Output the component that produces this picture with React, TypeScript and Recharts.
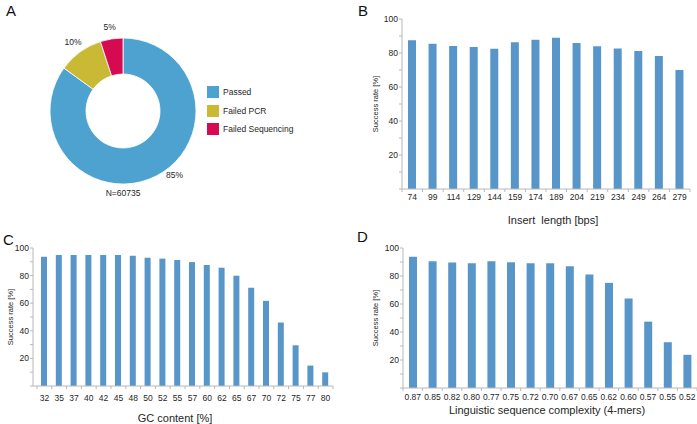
import React from 'react';
import {
  Bar,
  BarChart,
  Cell,
  Label,
  Legend,
  Pie,
  PieChart,
  XAxis,
  YAxis,
} from 'recharts';

const FONT = '"Liberation Sans", Arial, sans-serif';
const BAR_COLOR = '#5896c9';
const AXIS_COLOR = '#b8b8b8';
const TEXT_COLOR = '#262626';

// panel A
const outcomeNames = ['Passed', 'Failed PCR', 'Failed Sequencing'];
const outcomeShares = [85, 10, 5];
const outcomeColors = ['#4da2cf', '#c9b934', '#d50a50'];
const sampleCount = 'N=60735';

// panel B
const insertLengths = ['74', '99', '114', '129', '144', '159', '174', '189', '204', '219', '234', '249', '264', '279'];
const insertRates = [87.5, 85.5, 84.1, 83.5, 82.5, 86.3, 87.8, 89, 85.9, 83.9, 82.7, 81.2, 78.2, 70];

// panel C
const gcContents = ['32', '35', '37', '40', '42', '45', '48', '50', '52', '55', '57', '60', '62', '65', '67', '70', '72', '75', '77', '80'];
const gcRates = [93.7, 94.9, 94.9, 94.9, 94.9, 94.9, 94.4, 93, 92.3, 91.3, 89.8, 87.7, 85.7, 79.9, 71.2, 61.7, 46, 29.5, 14.8, 9.9];

// panel D
const complexities = ['0.87', '0.85', '0.82', '0.80', '0.77', '0.75', '0.72', '0.70', '0.67', '0.65', '0.62', '0.60', '0.57', '0.55', '0.52'];
const complexityRates = [93.8, 90.5, 89.6, 89.1, 90.5, 89.8, 89.1, 89.1, 87, 81, 75.1, 64, 47.4, 32.7, 23.7];

const yTicks = [0, 10, 20, 30, 40, 50, 60, 70, 80, 90, 100];

const pieData = outcomeNames.map((name, i) => ({ name, value: outcomeShares[i], color: outcomeColors[i] }));
const insertData = insertLengths.map((name, i) => ({ name, value: insertRates[i] }));
const gcData = gcContents.map((name, i) => ({ name, value: gcRates[i] }));
const complexityData = complexities.map((name, i) => ({ name, value: complexityRates[i] }));

const RADIAN = Math.PI / 180;

const renderPieLabel = (props: any) => {
  const { cx, cy, midAngle, outerRadius, percent } = props;
  // the big slice's label sits a bit further round, like the original
  const big = percent > 0.5;
  const angle = big ? midAngle + 12 : midAngle;
  const r = outerRadius + (big ? 9 : 12);
  const x = cx + r * Math.cos(-angle * RADIAN);
  const y = cy + r * Math.sin(-angle * RADIAN);
  return (
    <text x={x} y={y + 3} textAnchor='middle' fontSize={8.5} fill={TEXT_COLOR} fontFamily={FONT}>
      {`${(percent * 100).toFixed(0)}%`}
    </text>
  );
};

const PieLegend = () => (
  <div style={{ fontFamily: FONT, fontSize: 8.5, color: TEXT_COLOR }}>
    {pieData.map((d) => (
      <div key={d.name} style={{ display: 'flex', alignItems: 'center', height: 18.5 }}>
        <span style={{ width: 12, height: 12, background: d.color, marginRight: 4 }} />
        <span>{d.name}</span>
      </div>
    ))}
  </div>
);

const YTick = (props: any) => {
  const { x, y, payload } = props;
  if (payload.value === 0 || payload.value % 20 !== 0) return <g />;
  return (
    <text x={x} y={y + 3} textAnchor='end' fontSize={8.5} fill={TEXT_COLOR} fontFamily={FONT}>
      {payload.value}
    </text>
  );
};

const makeXTick = (band: number, count: number, labelDy: number) => (props: any) => {
  const { x, y, payload, index } = props;
  return (
    <g>
      <line x1={x - band / 2} x2={x - band / 2} y1={y} y2={y + 3} stroke={AXIS_COLOR} />
      {index === count - 1 && (
        <line x1={x + band / 2} x2={x + band / 2} y1={y} y2={y + 3} stroke={AXIS_COLOR} />
      )}
      <text x={x} y={y + labelDy} textAnchor='middle' fontSize={8.5} fill={TEXT_COLOR} fontFamily={FONT}>
        {payload.value}
      </text>
    </g>
  );
};

const yTitle = (dx: number) => (props: any) => {
  const { x, y, height } = props.viewBox;
  const cx = x + dx;
  const cy = y + height / 2;
  return (
    <text
      x={cx}
      y={cy}
      transform={`rotate(-90 ${cx} ${cy})`}
      textAnchor='middle'
      dominantBaseline='central'
      fontSize={7.5}
      fill={TEXT_COLOR}
      fontFamily={FONT}
    >
      Success rate [%]
    </text>
  );
};

const xTitle = (text: string, dx: number, dy: number) => (props: any) => {
  const { x, y, width } = props.viewBox;
  return (
    <text
      x={x + width / 2 + dx}
      y={y + dy}
      textAnchor='middle'
      fontSize={11}
      fill={TEXT_COLOR}
      fontFamily={FONT}
      style={{ whiteSpace: 'pre' }}
    >
      {text}
    </text>
  );
};

const panelLetter = (letter: string, left: number, top: number) => (
  <div
    style={{
      position: 'absolute',
      left,
      top,
      fontFamily: FONT,
      fontSize: 15,
      color: '#111',
      lineHeight: '15px',
    }}
  >
    {letter}
  </div>
);

type BarPanelProps = {
  data: { name: string; value: number }[];
  left: number;
  top: number;
  width: number;
  height: number;
  margin: { top: number; right: number; left: number; bottom: number };
  yWidth: number;
  xHeight: number;
  padLeft: number;
  barSize: number;
  labelDy: number;
  title: string;
  titleDx: number;
  titleDy: number;
  yTitleDx: number;
};

const BarPanel = (p: BarPanelProps) => {
  const plotWidth = p.width - p.margin.left - p.margin.right - p.yWidth - p.padLeft;
  const band = plotWidth / p.data.length;
  return (
    <div style={{ position: 'absolute', left: p.left, top: p.top }}>
      <BarChart width={p.width} height={p.height} data={p.data} margin={p.margin} barCategoryGap={0}>
        <XAxis
          dataKey='name'
          height={p.xHeight}
          interval={0}
          padding={{ left: p.padLeft, right: 0 }}
          stroke={AXIS_COLOR}
          tickLine={false}
          tickSize={0}
          tickMargin={0}
          tick={makeXTick(band, p.data.length, p.labelDy)}
        >
          <Label content={xTitle(p.title, p.titleDx, p.titleDy)} />
        </XAxis>
        <YAxis
          width={p.yWidth}
          domain={[0, 100]}
          ticks={yTicks}
          interval={0}
          stroke={AXIS_COLOR}
          tickSize={3}
          tickMargin={1}
          tick={<YTick />}
        >
          <Label content={yTitle(p.yTitleDx)} />
        </YAxis>
        <Bar dataKey='value' fill={BAR_COLOR} barSize={p.barSize} isAnimationActive={false} />
      </BarChart>
    </div>
  );
};

export default function App() {
  return (
    <div style={{ position: 'absolute', left: 0, top: 0, width: 697, height: 424, background: '#fff', overflow: 'hidden' }}>
      <div style={{ position: 'absolute', left: 0, top: 0 }}>
        <PieChart width={350} height={210} margin={{ top: 0, right: 0, bottom: 0, left: 0 }}>
          <Pie
            data={pieData}
            dataKey='value'
            nameKey='name'
            cx={123}
            cy={111}
            innerRadius={37}
            outerRadius={73}
            startAngle={90}
            endAngle={-270}
            stroke='#ffffff'
            strokeWidth={0.8}
            labelLine={false}
            label={renderPieLabel}
            isAnimationActive={false}
          >
            {pieData.map((entry, index) => (
              <Cell key={`cell-${index}`} fill={entry.color} />
            ))}
          </Pie>
          <Legend content={<PieLegend />} wrapperStyle={{ position: 'absolute', left: 207, top: 83, width: 'auto' }} />
        </PieChart>
      </div>
      <div
        style={{
          position: 'absolute',
          left: 83,
          top: 188,
          width: 80,
          textAlign: 'center',
          fontFamily: FONT,
          fontSize: 8.5,
          color: TEXT_COLOR,
        }}
      >
        {sampleCount}
      </div>

      <BarPanel
        data={insertData}
        left={350}
        top={0}
        width={347}
        height={228}
        margin={{ top: 19, right: 7, left: 0, bottom: 0 }}
        yWidth={52}
        xHeight={39}
        padLeft={0}
        barSize={8}
        labelDy={11}
        title='Insert  length [bps]'
        titleDx={7}
        titleDy={35}
        yTitleDx={25}
      />
      <BarPanel
        data={gcData}
        left={0}
        top={210}
        width={350}
        height={214}
        margin={{ top: 38, right: 17, left: 0, bottom: 0 }}
        yWidth={33}
        xHeight={38}
        padLeft={4}
        barSize={6}
        labelDy={15}
        title='GC content [%]'
        titleDx={-8}
        titleDy={36}
        yTitleDx={10}
      />
      <BarPanel
        data={complexityData}
        left={350}
        top={210}
        width={347}
        height={214}
        margin={{ top: 38, right: 0, left: 0, bottom: 0 }}
        yWidth={53}
        xHeight={36}
        padLeft={0}
        barSize={8}
        labelDy={12}
        title='Linguistic sequence complexity (4-mers)'
        titleDx={-3}
        titleDy={26}
        yTitleDx={25}
      />

      {panelLetter('A', 6, 3)}
      {panelLetter('B', 358, 3)}
      {panelLetter('C', 3, 232)}
      {panelLetter('D', 357, 229)}
    </div>
  );
}
